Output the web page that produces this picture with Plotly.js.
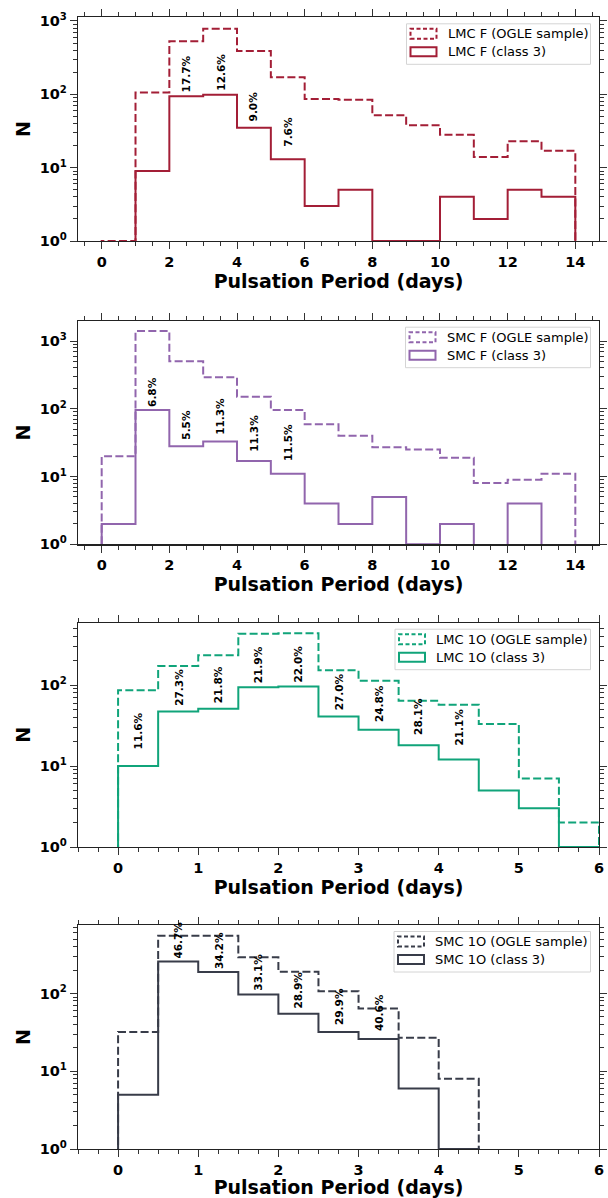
<!DOCTYPE html>
<html><head><meta charset="utf-8">
<script src="https://cdn.plot.ly/plotly-3.0.1.min.js"></script>
<style>html,body{margin:0;padding:0;background:#fff}#chart{width:608px;height:1198px}</style>
</head><body><div id="chart"></div>
<script>
// ---------------- data ----------------
// Panel 1: LMC F
const lmcF_edges   = [0,1,2,3,4,5,6,7,8,9,10,11,12,13,14];
const lmcF_ogle    = [1,106,531,786,389,171,86,84,52,38,28,14,23,17];
const lmcF_class3  = [0,9,94,99,35,13,3,5,1,1,4,2,5,4];
const lmcF_pctBins = [2,3,4,5];
const lmcF_pct     = ['17.7%','12.6%','9.0%','7.6%'];
// Panel 2: SMC F
const smcF_edges   = [0,1,2,3,4,5,6,7,8,9,10,11,12,13,14];
const smcF_ogle    = [20,1410,505,292,150,96,59,40,27,25,19,8,9,11];
const smcF_class3  = [2,96,28,33,17,11,4,2,5,1,2,0,4,0];
const smcF_pctBins = [1,2,3,4,5];
const smcF_pct     = ['6.8%','5.5%','11.3%','11.3%','11.5%'];
// Panel 3: LMC 1O
const lmc1O_edges   = [0,0.5,1,1.5,2,2.5,3,3.5,4,4.5,5,5.5,6];
const lmc1O_ogle    = [86,172,234,429,436,152,113,64,57,33,7,2];
const lmc1O_class3  = [10,47,51,94,96,41,28,18,12,5,3,1];
const lmc1O_pctBins = [0,1,2,3,4,5,6,7,8];
const lmc1O_pct     = ['11.6%','27.3%','21.8%','21.9%','22.0%','27.0%','24.8%','28.1%','21.1%'];
// Panel 4: SMC 1O
const smc1O_edges   = [0,0.5,1,1.5,2,2.5,3,3.5,4,4.5];
const smc1O_ogle    = [32,550,550,293,190,107,64,27,8];
const smc1O_class3  = [5,257,188,97,55,32,26,6,1];
const smc1O_pctBins = [1,2,3,4,5,6];
const smc1O_pct     = ['46.7%','34.2%','33.1%','28.9%','29.9%','40.6%'];
// tick labels
const yTickVals = [1,10,100,1000];
const yTickText = ['10<sup>0</sup>','10<sup>1</sup>','10<sup>2</sup>','10<sup>3</sup>'];
const xTitle = 'Pulsation Period (days)';
const yTitle = 'N';

// ---------------- layout geometry ----------------
const W=608, H=1198, ML=78, MR=9, MT=17, MB=49;
const PW=W-ML-MR, PH=H-MT-MB;
const px = v => (v-ML)/PW;
const py = v => (H-MB-v)/PH;
const clamp = v => Math.max(0, Math.min(1, v));

const panels = [
  {name:'LMC F', edges:lmcF_edges, ogle:lmcF_ogle, c3:lmcF_class3, pb:lmcF_pctBins, pct:lmcF_pct,
   color:'#a31e36', top:17.3, bot:241, yr:3.05, xr:[-0.7,14.7], dt:2, mdt:0.5, legL:406.5},
  {name:'SMC F', edges:smcF_edges, ogle:smcF_ogle, c3:smcF_class3, pb:smcF_pctBins, pct:smcF_pct,
   color:'#9165ad', top:320.7, bot:544.3, yr:3.30, xr:[-0.7,14.7], dt:2, mdt:0.5, legL:405.5},
  {name:'LMC 1O', edges:lmc1O_edges, ogle:lmc1O_ogle, c3:lmc1O_class3, pb:lmc1O_pctBins, pct:lmc1O_pct,
   color:'#10a47a', top:622.7, bot:847, yr:2.77, xr:[-0.5,6], dt:1, mdt:0.25, legL:395},
  {name:'SMC 1O', edges:smc1O_edges, ogle:smc1O_ogle, c3:smc1O_class3, pb:smc1O_pctBins, pct:smc1O_pct,
   color:'#383c49', top:925, bot:1149.3, yr:2.88, xr:[-0.5,6], dt:1, mdt:0.25, legL:394}
];

const FLOOR = 1e-3; // empty bins drop below the axis, like a clipped log histogram
function stepXY(edges, counts){
  const x=[edges[0]], y=[FLOOR];
  counts.forEach((c,i)=>{ const v=c>0?c:FLOOR; x.push(edges[i],edges[i+1]); y.push(v,v); });
  x.push(edges[edges.length-1]); y.push(FLOOR);
  return {x,y};
}
const minorLog = [];
for (let d=1; d<=1000; d*=10) for (let k=2;k<=9;k++) minorLog.push(k*d);

const FONT='DejaVu Sans';
const data=[], annotations=[], shapes=[];
const layout = {width:W, height:H, margin:{l:ML,r:MR,t:MT,b:MB}, showlegend:false,
  paper_bgcolor:'#fff', plot_bgcolor:'rgba(0,0,0,0)', font:{family:FONT,color:'#000'},
  annotations, shapes};

panels.forEach((p,i)=>{
  const n=i+1, xa='x'+(n===1?'':n), ya='y'+(n===1?'':n);
  const dom=[clamp(py(p.bot)), clamp(py(p.top))];
  const dash='8px,3.3px';
  const s1=stepXY(p.edges,p.ogle), s2=stepXY(p.edges,p.c3);
  data.push({type:'scatter',mode:'lines',x:s1.x,y:s1.y,xaxis:xa,yaxis:ya,name:p.name+' (OGLE sample)',
    line:{color:p.color,width:2,dash:dash},hoverinfo:'skip'});
  data.push({type:'scatter',mode:'lines',x:s2.x,y:s2.y,xaxis:xa,yaxis:ya,name:p.name+' (class 3)',
    line:{color:p.color,width:2},hoverinfo:'skip'});
  const axCommon = {showline:true, linecolor:'#222', linewidth:1.2, mirror:'allticks', ticks:'outside',
    ticklen:7, tickwidth:1, tickcolor:'#333', showgrid:false, zeroline:false,
    tickfont:{family:FONT,size:14.5,weight:'bold',color:'#000'}};
  layout['xaxis'+(n===1?'':n)] = Object.assign({}, axCommon, {domain:[0,1], anchor:ya, range:p.xr,
    tick0:0, dtick:p.dt, minor:{dtick:p.mdt, tick0:0, ticks:'outside', ticklen:4, tickcolor:'#333', tickwidth:1},
    title:{text:xTitle, font:{family:FONT,size:19,weight:'bold',color:'#000'}, standoff:1}});
  layout['yaxis'+(n===1?'':n)] = Object.assign({}, axCommon, {domain:dom, anchor:xa, type:'log', range:[0,p.yr],
    tickmode:'array', tickvals:yTickVals, ticktext:yTickText,
    minor:{tickmode:'array', tickvals:minorLog, ticks:'outside', ticklen:4, tickcolor:'#333', tickwidth:1},
    title:{text:yTitle, font:{family:FONT,size:19,weight:'bold',color:'#000'}, standoff:4}});
  // percentage labels
  p.pb.forEach((b,k)=>{
    annotations.push({xref:xa, yref:ya, x:(p.edges[b]+p.edges[b+1])/2, y:Math.log10(p.c3[b]+5),
      text:p.pct[k], showarrow:false, textangle:-90, xanchor:'center', yanchor:'bottom',
      font:{family:FONT,size:10.5,weight:'bold',color:'#000'}});
  });
  // legend (matplotlib-style patch handles)
  const bx0=p.legL, bx1=590.5, by0=p.top+6.5, by1=p.top+47;
  shapes.push({type:'rect',xref:'paper',yref:'paper',x0:px(bx0),x1:px(bx1),y0:py(by1),y1:py(by0),
    line:{color:'#d4d4d4',width:1},fillcolor:'rgba(255,255,255,0.85)',layer:'above'});
  const hx0=bx0+4, hx1=bx0+30;
  [[5,15,dash,' (OGLE sample)'],[23.5,32.5,'solid',' (class 3)']].forEach(([a,b,d,suf])=>{
    shapes.push({type:'rect',xref:'paper',yref:'paper',x0:px(hx0),x1:px(hx1),y0:py(by0+b),y1:py(by0+a),
      line:{color:p.color,width:2,dash:d==='solid'?'solid':'4px,2.5px'},fillcolor:'rgba(0,0,0,0)',layer:'above'});
    annotations.push({xref:'paper',yref:'paper',x:px(bx0+40),y:py(by0+(a+b)/2),text:p.name+suf,showarrow:false,
      xanchor:'left',yanchor:'middle',borderpad:0,font:{family:FONT,size:13,color:'#000'}});
  });
});

Plotly.newPlot('chart', data, layout, {staticPlot:true, displayModeBar:false});
</script></body></html>
